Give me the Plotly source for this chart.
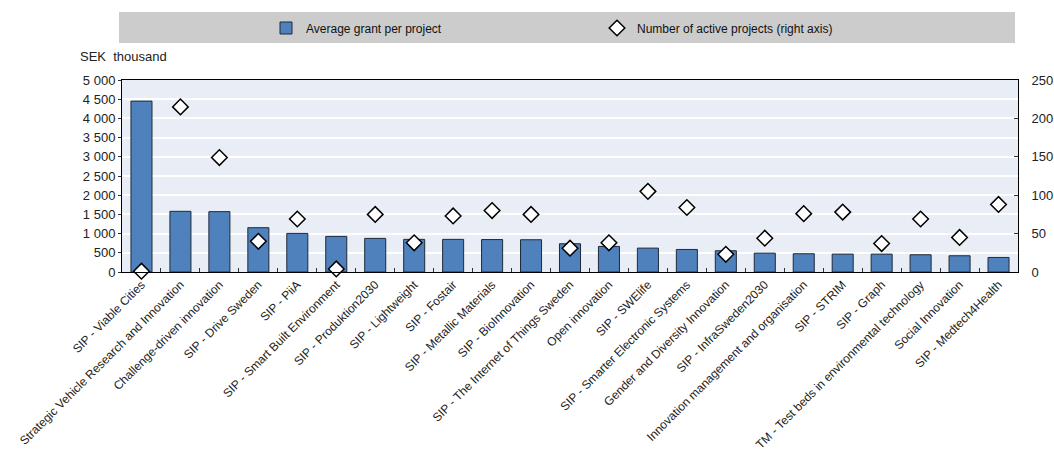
import plotly.graph_objects as go

categories = [
    "SIP - Viable Cities",
    "Strategic Vehicle Research and Innovation",
    "Challenge-driven innovation",
    "SIP - Drive Sweden",
    "SIP - PiiA",
    "SIP - Smart Built Environment",
    "SIP - Produktion2030",
    "SIP - Lightweight",
    "SIP - Fostair",
    "SIP - Metallic Materials",
    "SIP - BioInnovation",
    "SIP - The Internet of Things Sweden",
    "Open innovation",
    "SIP - SWElife",
    "SIP - Smarter Electronic Systems",
    "Gender and Diversity Innovation",
    "SIP - InfraSweden2030",
    "Innovation management and organisation",
    "SIP - STRIM",
    "SIP - Graph",
    "TM - Test beds in environmental technology",
    "Social Innovation",
    "SIP - Medtech4Health",
]
avg_grant = [4450, 1580, 1572, 1154, 1005, 927, 875, 850, 850, 845, 840, 736, 666,
             622, 587, 553, 491, 475, 465, 465, 449, 423, 379]
active_projects = [1, 215, 149, 40, 69, 4, 75, 38, 73, 80, 75, 31, 38,
                   105, 84, 23, 44, 76, 78, 37, 69, 45, 88]

FONT = "Liberation Sans, Arial, sans-serif"
L, R, T, B = 122, 36, 80, 188
W, H = 1054, 460
pw = W - L - R
ph = H - T - B

def px_x(x):
    return (x - L) / pw

def px_y(y):
    return (H - B - y) / ph

fig = go.Figure()
fig.add_trace(go.Bar(
    x=categories, y=avg_grant, name="Average grant per project",
    marker=dict(color="#4f81bd", line=dict(color="#1f2a38", width=1)),
    yaxis="y",
))
fig.add_trace(go.Scatter(
    x=categories, y=active_projects, name="Number of active projects (right axis)",
    mode="markers", yaxis="y2", cliponaxis=False,
    marker=dict(symbol="diamond", size=12, color="white",
                line=dict(color="black", width=1.5)),
))

fig.update_layout(
    width=W, height=H,
    margin=dict(l=L, r=R, t=T, b=B, autoexpand=False),
    paper_bgcolor="white",
    plot_bgcolor="#e9edf5",
    font=dict(family=FONT, size=13, color="#222"),
    separators=". ",
    bargap=0.46,
    showlegend=True,
    legend=dict(
        orientation="h", x=px_x(266), xanchor="left", y=px_y(28), yanchor="middle",
        bgcolor="rgba(0,0,0,0)", font=dict(size=12, family=FONT, color="#111"),
        entrywidth=286, entrywidthmode="pixels", itemwidth=30,
        traceorder="normal",
    ),
    xaxis=dict(
        type="category", range=[-0.5, len(categories) - 0.5], autorange=False,
        tickangle=-45, showline=True, linecolor="black", automargin=False,
        linewidth=1, mirror=True, ticks="inside", tickson="boundaries",
        ticklen=4, tickcolor="#333", showgrid=False,
        tickfont=dict(size=12, family=FONT, color="#222"),
    ),
    yaxis=dict(
        range=[0, 5000], dtick=500, tickformat=",d", showgrid=True, automargin=False,
        gridcolor="white", gridwidth=1.5, showline=True, linecolor="black",
        linewidth=1, ticks="outside", ticklen=3, tickcolor="#333", zeroline=False,
        tickfont=dict(size=13, family=FONT, color="#222"),
    ),
    yaxis2=dict(
        range=[0, 250], dtick=50, overlaying="y", side="right", showgrid=False,
        showline=True, linecolor="black", linewidth=1, ticks="inside", automargin=False,
        ticklen=4, tickcolor="#333", zeroline=False, ticklabelstandoff=10,
        tickfont=dict(size=13, family=FONT, color="#222"),
    ),
    shapes=[dict(
        type="rect", xref="paper", yref="paper",
        x0=px_x(119), x1=px_x(1015), y0=px_y(43), y1=px_y(12),
        fillcolor="#cccccc", line=dict(width=0), layer="below",
    )],
    annotations=[dict(
        text="SEK  thousand", xref="paper", yref="paper",
        x=px_x(78), y=px_y(57), xanchor="left", yanchor="middle",
        showarrow=False, font=dict(size=13, family=FONT, color="#222"),
    )],
)

fig.write_html("out.html")
